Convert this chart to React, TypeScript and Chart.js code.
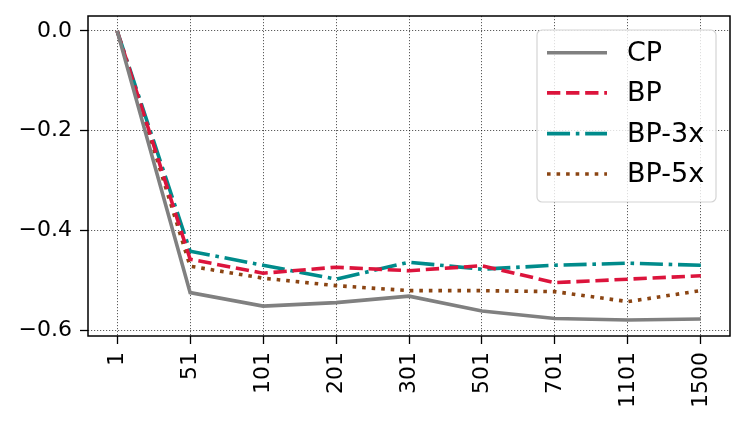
import React, { useEffect, useRef } from 'react';
import { Chart, registerables } from 'chart.js';

Chart.register(...registerables);

const categories = ['1', '51', '101', '201', '301', '501', '701', '1101', '1500'];
const cpValues = [0, -0.525, -0.552, -0.545, -0.532, -0.562, -0.577, -0.58, -0.578];
const bpValues = [0, -0.458, -0.486, -0.474, -0.481, -0.471, -0.505, -0.498, -0.491];
const bp3xValues = [0, -0.442, -0.47, -0.498, -0.464, -0.478, -0.47, -0.466, -0.47];
const bp5xValues = [0, -0.472, -0.496, -0.511, -0.521, -0.521, -0.523, -0.543, -0.521];
const yTickValues = [0, -0.2, -0.4, -0.6];
const seriesNames = ['CP', 'BP', 'BP-3x', 'BP-5x'];
const seriesColors = ['#808080', '#DC143C', '#008B8B', '#8B4513'];

const FONT = "'DejaVu Sans', 'Liberation Sans', sans-serif";
const LW = 3.6;
const dashes: number[][] = [
  [],
  [3.7 * LW, 1.6 * LW],
  [6.4 * LW, 1.6 * LW, 1 * LW, 1.6 * LW],
  [1 * LW, 1.65 * LW],
];

const framePlugin = {
  id: 'frameAndLegend',
  afterDraw(chart: any) {
    const ctx = chart.ctx as CanvasRenderingContext2D;
    const a = chart.chartArea;
    ctx.save();
    ctx.setLineDash([]);
    ctx.strokeStyle = '#000';
    ctx.lineWidth = 1.5;
    ctx.strokeRect(a.left, a.top, a.right - a.left, a.bottom - a.top);

    // legend
    const bx = 537, by = 30, bw = 179, bh = 172, r = 5;
    ctx.beginPath();
    ctx.moveTo(bx + r, by);
    ctx.lineTo(bx + bw - r, by);
    ctx.arcTo(bx + bw, by, bx + bw, by + r, r);
    ctx.lineTo(bx + bw, by + bh - r);
    ctx.arcTo(bx + bw, by + bh, bx + bw - r, by + bh, r);
    ctx.lineTo(bx + r, by + bh);
    ctx.arcTo(bx, by + bh, bx, by + bh - r, r);
    ctx.lineTo(bx, by + r);
    ctx.arcTo(bx, by, bx + r, by, r);
    ctx.closePath();
    ctx.fillStyle = 'rgba(255,255,255,0.8)';
    ctx.fill();
    ctx.strokeStyle = '#d4d4d4';
    ctx.lineWidth = 1.2;
    ctx.stroke();

    const rows = [52.7, 92.9, 133.6, 174];
    chart.data.datasets.forEach((ds: any, i: number) => {
      const y = rows[i];
      ctx.beginPath();
      ctx.setLineDash(ds.borderDash || []);
      ctx.lineCap = 'butt';
      ctx.strokeStyle = ds.borderColor;
      ctx.lineWidth = ds.borderWidth;
      ctx.moveTo(547, y);
      ctx.lineTo(607, y);
      ctx.stroke();
      ctx.setLineDash([]);
      ctx.fillStyle = '#000';
      ctx.font = `27px ${FONT}`;
      ctx.textBaseline = 'middle';
      ctx.textAlign = 'left';
      ctx.fillText(ds.label, 627, y + 1);
    });
    ctx.restore();
  },
};

export default function App() {
  const ref = useRef<HTMLCanvasElement>(null);
  useEffect(() => {
    if (!ref.current) return;
    const values = [cpValues, bpValues, bp3xValues, bp5xValues];
    const gridOpts: any = {
      color: 'rgba(0,0,0,0.8)',
      lineWidth: 0.8,
      tickLength: 8,
      tickColor: '#000',
      tickWidth: 1.3,
      tickBorderDash: [],
      borderDash: [1.2, 1.8],
    };
    const chart = new Chart(ref.current, {
      type: 'line',
      data: {
        datasets: seriesNames.map((name, i) => ({
          label: name,
          data: values[i].map((v, j) => ({ x: j, y: v })),
          borderColor: seriesColors[i],
          backgroundColor: seriesColors[i],
          borderWidth: LW,
          borderDash: dashes[i],
          borderCapStyle: 'butt',
          pointRadius: 0,
          tension: 0,
          fill: false,
        })),
      },
      options: {
        animation: false,
        responsive: false,
        maintainAspectRatio: false,
        devicePixelRatio: 1,
        layout: { padding: { top: 16, right: 17, left: 0, bottom: 0 } },
        plugins: { legend: { display: false }, tooltip: { enabled: false } },
        scales: {
          x: {
            type: 'linear',
            min: -0.4,
            max: categories.length - 1 + 0.4,
            afterBuildTicks: (scale: any) => {
              scale.ticks = categories.map((_, i) => ({ value: i }));
            },
            afterFit: (scale: any) => {
              scale.height = 427 - 336;
              scale.paddingLeft = 0;
              scale.paddingRight = 0;
              scale.paddingTop = 0;
              scale.paddingBottom = 0;
            },
            ticks: {
              autoSkip: false,
              minRotation: 90,
              maxRotation: 90,
              padding: 8,
              color: '#000',
              font: { family: FONT, size: 22 },
              callback: (v: any) => categories[Math.round(Number(v))] ?? '',
            },
            grid: gridOpts,
            border: { display: false, dash: [1.2, 1.8] },
          },
          y: {
            type: 'linear',
            min: -0.612,
            max: 0.03,
            afterBuildTicks: (scale: any) => {
              scale.ticks = yTickValues.map((v) => ({ value: v }));
            },
            afterFit: (scale: any) => {
              scale.width = 88;
              scale.paddingTop = 0;
              scale.paddingBottom = 0;
              scale.paddingLeft = 0;
              scale.paddingRight = 0;
            },
            ticks: {
              padding: 8,
              color: '#000',
              font: { family: FONT, size: 22 },
              callback: (v: any) => {
                const n = Number(v);
                if (Math.abs(n) < 1e-9) return '0.0';
                return (n < 0 ? '\u2212' : '') + Math.abs(n).toFixed(1);
              },
            },
            grid: gridOpts,
            border: { display: false, dash: [1.2, 1.8] },
          },
        },
      } as any,
      plugins: [framePlugin],
    });
    return () => chart.destroy();
  }, []);
  return (
    <div style={{ position: 'fixed', left: 0, top: 0, width: 747, height: 427, background: '#fff' }}>
      <canvas ref={ref} width={747} height={427} style={{ width: 747, height: 427 }} />
    </div>
  );
}
